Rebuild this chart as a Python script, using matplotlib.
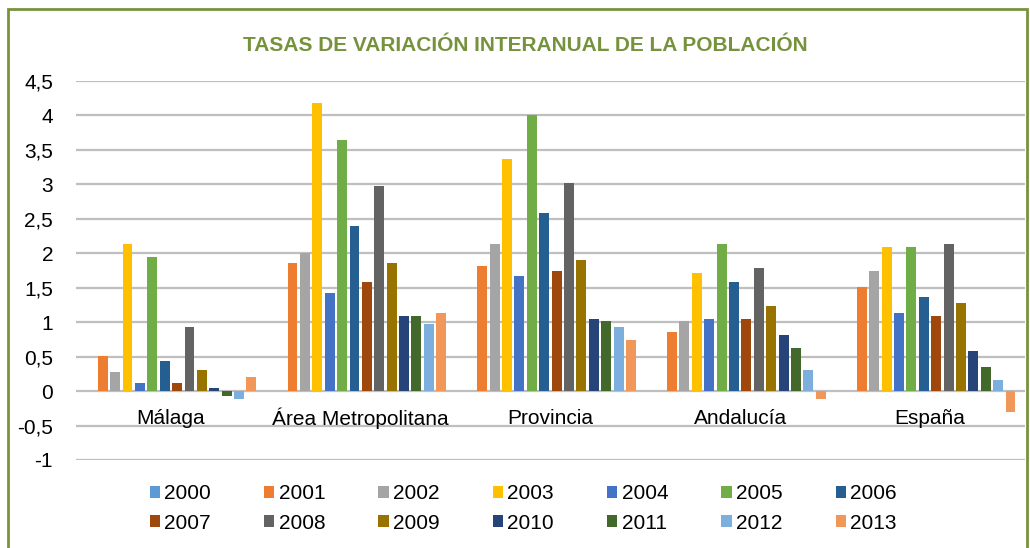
import matplotlib.pyplot as plt
import matplotlib.patches as mpatches
import numpy as np

# Tasas de variación interanual de la población (%)
regions = ['Málaga', 'Área Metropolitana', 'Provincia', 'Andalucía', 'España']
years = [str(y) for y in range(2000, 2014)]

# one list per year, values per region
v2000 = [0.0, 0.0, 0.0, 0.0, 0.0]
v2001 = [0.51, 1.86, 1.82, 0.86, 1.51]
v2002 = [0.28, 2.01, 2.13, 1.01, 1.74]
v2003 = [2.13, 4.18, 3.37, 1.71, 2.09]
v2004 = [0.12, 1.43, 1.67, 1.05, 1.13]
v2005 = [1.94, 3.64, 4.00, 2.13, 2.09]
v2006 = [0.43, 2.40, 2.59, 1.59, 1.36]
v2007 = [0.12, 1.59, 1.74, 1.05, 1.09]
v2008 = [0.93, 2.98, 3.02, 1.78, 2.13]
v2009 = [0.31, 1.86, 1.90, 1.24, 1.28]
v2010 = [0.04, 1.09, 1.05, 0.82, 0.58]
v2011 = [-0.07, 1.09, 1.02, 0.62, 0.35]
v2012 = [-0.11, 0.97, 0.93, 0.31, 0.16]
v2013 = [0.20, 1.13, 0.74, -0.11, -0.30]

series = [v2000, v2001, v2002, v2003, v2004, v2005, v2006,
          v2007, v2008, v2009, v2010, v2011, v2012, v2013]
colors = ['#5B9BD5', '#ED7D31', '#A5A5A5', '#FFC000', '#4472C4', '#70AD47', '#255E91',
          '#9E480E', '#636363', '#997300', '#264478', '#43682B', '#7CAFDD', '#F1975A']

plt.rcParams['font.family'] = ['Liberation Sans', 'DejaVu Sans']

fig = plt.figure(figsize=(10.3, 5.48), dpi=100)
ax = fig.add_axes([0.0738, 0.1606, 0.9212, 0.6916])

slot = 0.0653
x = np.arange(len(regions))
handles = []
for j, (vals, c) in enumerate(zip(series, colors)):
    b = ax.bar(x + (j - 6.5) * slot, vals, width=slot * 0.8, color=c,
               label=years[j], zorder=3)
    handles.append(b)

ax.set_xlim(-0.5, 4.5)
ax.set_ylim(-1, 4.5)
yt = np.arange(-1, 4.51, 0.5)
ax.set_yticks(yt)
ax.set_yticklabels([('%g' % v).replace('.', ',') for v in yt], fontsize=15)
ax.set_xticks([])
ax.tick_params(axis='y', length=0, pad=16.5)
for s in ax.spines.values():
    s.set_visible(False)
ax.grid(axis='y', color='#BFBFBF', linewidth=1.6, zorder=0)

for i, r in enumerate(regions):
    ax.text(i, -0.40, r, ha='center', va='center', fontsize=15)

fig.text(0.51, 0.917, 'TASAS DE VARIACIÓN INTERANUAL DE LA POBLACIÓN',
         ha='center', va='center', fontsize=15, fontweight='bold', color='#76923C')

# legend: two rows, filled column by column
order = []
for c in range(7):
    order += [c, c + 7]
leg = fig.legend([handles[i] for i in order], [years[i] for i in order],
                 ncol=7, loc='center', bbox_to_anchor=(0.508, 0.072),
                 frameon=False, fontsize=15, handlelength=0.5, handleheight=0.5,
                 handletextpad=0.2, columnspacing=2.55, labelspacing=0.5)

# green outer frame
fig.patches.append(mpatches.Rectangle((8 / 1030, -0.05), 1019 / 1030, 1.05 - 9 / 548,
                                      transform=fig.transFigure, fill=False,
                                      edgecolor='#77933C', linewidth=2))

plt.savefig('out.png', dpi=100)
